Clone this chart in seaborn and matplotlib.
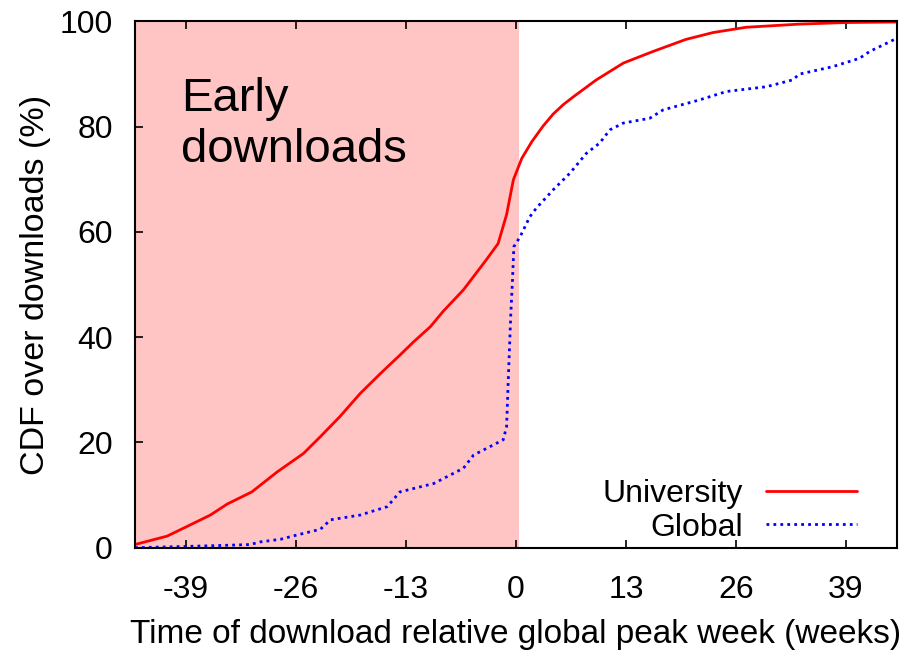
import pandas as pd
import matplotlib
matplotlib.use("Agg")
import matplotlib.pyplot as plt
import seaborn as sns

# CDF (weeks relative to global peak, percent)
uni_weeks = [-45, -41.2, -38.9, -36.1, -34.1, -31.2, -28.2, -25.1, -23.1, -20.8, -18.4,
             -16.0, -13.7, -12.1, -10.1, -8.6, -6.2, -3.5, -2.1, -1.1, -0.3, 0.7, 1.9,
             3.2, 4.4, 5.6, 6.8, 9.5, 12.7, 16.2, 20.1, 23.3, 27.2, 33.5, 39.0, 45]
uni_cdf = [0.6, 2.2, 4.0, 6.2, 8.3, 10.6, 14.4, 17.9, 21.1, 24.9, 29.3,
           33.1, 36.6, 39.1, 42.0, 44.9, 49.0, 54.7, 57.8, 63.3, 69.9, 74.0, 77.2,
           80.1, 82.4, 84.2, 85.7, 88.9, 92.1, 94.3, 96.6, 97.9, 98.9, 99.5, 99.8, 99.9]

glob_weeks = [-45, -40, -35.3, -31.4, -30.2, -27.8, -25.9, -23.1, -21.9, -18.4, -15.2,
              -13.7, -9.7, -6.2, -5.0, -1.5, -1.1, -0.9, -0.6, -0.4, -0.24, 0.5, 1.65,
              2.4, 4.4, 6.4, 8.3, 9.9, 11.1, 12.7, 15.8, 17.4, 21.7, 24.9, 29.6, 32.7,
              33.5, 37.4, 40.6, 41.8, 45]
glob_cdf = [0.0, 0.2, 0.4, 0.6, 1.1, 1.6, 2.4, 3.5, 5.3, 6.2, 7.8,
            10.6, 12.2, 15.1, 17.6, 20.5, 23.0, 31.9, 44.5, 50.9, 57.2, 59.1, 62.9,
            64.5, 68.0, 71.2, 74.9, 76.9, 79.4, 80.7, 81.6, 83.2, 85.1, 86.7, 87.6, 88.9,
            90.0, 91.4, 93.0, 94.3, 96.8]

x_ticks = [-39, -26, -13, 0, 13, 26, 39]
y_ticks = [0, 20, 40, 60, 80, 100]

df = pd.concat([
    pd.DataFrame({"week": uni_weeks, "cdf": uni_cdf, "series": "University"}),
    pd.DataFrame({"week": glob_weeks, "cdf": glob_cdf, "series": "Global"}),
])

sns.set_style("ticks")
plt.rcParams["font.family"] = ["Liberation Sans", "DejaVu Sans"]
plt.rcParams["axes.unicode_minus"] = False
for k in ["text.color", "axes.labelcolor", "xtick.color", "ytick.color"]:
    plt.rcParams[k] = "black"

fig = plt.figure(figsize=(9.16, 6.51), dpi=100)
ax = fig.add_axes([0.1474, 0.1587, 0.979 - 0.1474, 0.967 - 0.1587])

ax.axvspan(-45, 0.35, color="#ffc4c4", lw=0, zorder=0)

sns.lineplot(data=df, x="week", y="cdf", hue="series", style="series",
             palette={"University": "red", "Global": "blue"},
             dashes={"University": "", "Global": (1, 1.5)},
             linewidth=2, ax=ax, sort=False, estimator=None)

ax.set_xlim(-45, 45)
ax.set_ylim(0, 100)
ax.set_xticks(x_ticks)
ax.set_yticks(y_ticks)
ax.tick_params(direction="in", length=6, width=1.2, labelsize=23, top=True, right=False)
ax.tick_params(axis="x", pad=20)
ax.tick_params(axis="y", pad=16)
for s in ax.spines.values():
    s.set_linewidth(1.5)
    s.set_color("black")

ax.set_xlabel("Time of download relative global peak week (weeks)", fontsize=24, labelpad=10)
ax.set_ylabel("CDF over downloads (%)", fontsize=24.5, labelpad=6)

ax.text(-39.6, 89.5, "Early\ndownloads", fontsize=34, va="top", ha="left", linespacing=1.2)

leg = ax.legend(loc="lower right", frameon=False, markerfirst=False, fontsize=23,
                handlelength=2.85, bbox_to_anchor=(0.985, -0.045), labelspacing=0.12,
                handletextpad=0.7)
for h in leg.get_lines():
    h.set_linewidth(2)

fig.savefig("out.png", dpi=100)
